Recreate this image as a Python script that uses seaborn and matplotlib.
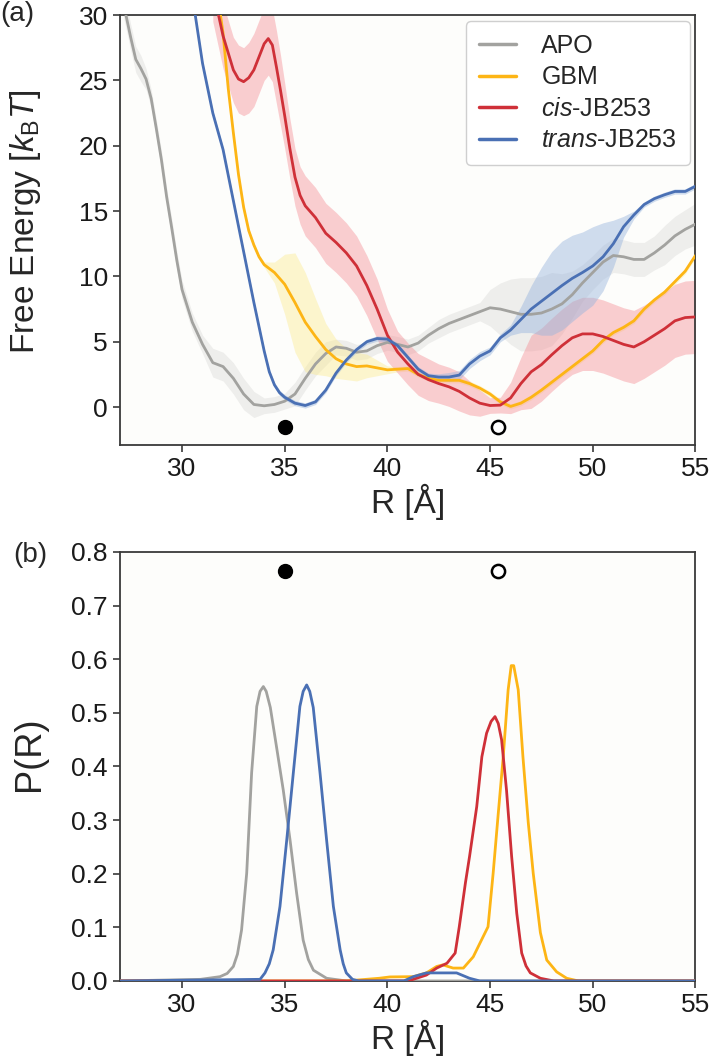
import numpy as np
import pandas as pd
import matplotlib
matplotlib.use("Agg")
import matplotlib.pyplot as plt
import seaborn as sns

# ---------------- data: free energy profiles (panel a) ----------------
apo_x = [27.0, 27.5, 27.75, 28.0, 28.25, 28.5, 28.75, 29.0, 29.25, 29.5, 29.75, 30.0, 30.5,
         31.0, 31.5, 32.0, 32.5, 33.0, 33.5,
         34.0, 34.5, 35.0, 35.5, 36.0, 36.5, 37.0, 37.5, 38.0, 38.5, 39.0, 39.5, 40.0, 40.5,
         41.0, 41.5, 42.0, 42.5, 43.0, 43.5, 44.0, 44.5, 45.0, 45.5, 46.0, 46.5, 47.0, 47.5,
         48.0, 48.5, 49.0, 49.5, 50.0, 50.5, 51.0, 51.5, 52.0, 52.5, 53.0, 53.5, 54.0, 54.5, 55.0]
apo_y = [32.0, 28.3, 26.6, 25.9, 25.1, 23.6, 21.3, 18.9, 16.1, 13.7, 11.2, 9.0, 6.5,
         4.8, 3.4, 3.1, 2.2, 1.0, 0.2,
         0.1, 0.2, 0.45, 1.0, 2.2, 3.3, 4.1, 4.6, 4.5, 4.2, 4.3, 4.7, 4.95, 4.8,
         4.6, 4.9, 5.5, 6.0, 6.4, 6.7, 7.0, 7.3, 7.6, 7.5, 7.3, 7.1, 7.1, 7.2,
         7.5, 7.9, 8.6, 9.5, 10.3, 11.1, 11.6, 11.5, 11.3, 11.3, 11.8, 12.4, 13.1, 13.6, 14.0]
apo_err = [1.0, 1.0, 1.0, 1.0, 0.8, 0.7, 0.7, 0.7, 0.7, 0.7, 0.7, 0.7, 0.7,
           0.7, 1.1, 1.1, 1.2, 1.2, 1.0,
           0.6, 0.6, 0.6, 0.9, 0.9, 0.9, 0.9, 0.6, 0.6, 0.6, 0.6, 0.6, 0.6, 0.6,
           0.6, 0.6, 0.6, 0.7, 0.7, 0.7, 0.7, 0.7, 1.4, 2.0, 2.5, 2.8, 2.8, 2.8,
           2.8, 2.3, 1.8, 1.4, 1.3, 1.3, 1.3, 1.3, 1.3, 1.3, 1.3, 1.5, 1.5, 1.5, 1.6]

gbm_x = [31.5, 32.0, 32.25, 32.5, 32.75, 33.0, 33.25, 33.5, 33.75, 34.0, 34.5, 35.0, 35.5, 36.0,
         36.5, 37.0, 37.5, 38.0,
         38.5, 39.0, 39.5, 40.0, 40.5, 41.0, 41.5, 42.0, 42.5, 43.0, 43.5, 44.0, 44.5, 45.0,
         45.5, 46.0, 46.5, 47.0, 47.5, 48.0, 48.5, 49.0, 49.5, 50.0, 50.5, 51.0, 51.5, 52.0,
         52.5, 53.0, 53.5, 54.0, 54.5, 55.0]
gbm_y = [34.0, 28.6, 24.4, 21.0, 17.8, 15.3, 13.5, 12.4, 11.5, 10.9, 10.3, 9.4, 8.0, 6.5,
         5.4, 4.4, 3.7, 3.3,
         3.1, 3.15, 3.0, 2.85, 2.9, 2.95, 2.5, 2.2, 2.05, 2.05, 2.05, 1.8, 1.45, 1.0,
         0.4, 0.05, 0.3, 0.75, 1.3, 1.9, 2.5, 3.1, 3.7, 4.3, 5.1, 5.7, 6.1, 6.6,
         7.5, 8.2, 8.8, 9.6, 10.4, 11.6]
gbm_err = [0.2, 0.2, 0.2, 0.2, 0.2, 0.2, 0.2, 0.2, 0.2, 0.2, 0.8, 2.3, 3.8, 3.8,
           2.9, 2.0, 1.5, 1.2,
           1.1, 0.9, 0.6, 0.3, 0.2, 0.2, 0.2, 0.2, 0.2, 0.2, 0.2, 0.2, 0.2, 0.2,
           0.2, 0.2, 0.2, 0.2, 0.2, 0.2, 0.2, 0.2, 0.2, 0.2, 0.2, 0.2, 0.2, 0.2,
           0.2, 0.2, 0.2, 0.2, 0.2, 0.2]

cis_x = [31.5, 32.0, 32.5, 32.75, 33.0, 33.25, 33.5, 33.75, 34.0, 34.2, 34.4, 34.6, 34.8, 35.0,
         35.25, 35.5, 35.75, 36.0, 36.5, 37.0, 37.5,
         38.0, 38.5, 39.0, 39.5, 40.0, 40.5, 41.0, 41.5, 42.0, 42.5, 43.0, 43.5, 44.0, 44.5,
         45.0, 45.5, 46.0, 46.5, 47.0, 47.5, 48.0, 48.5, 49.0, 49.5, 50.0, 50.5, 51.0, 51.5,
         52.0, 52.5, 53.0, 53.5, 54.0, 54.5, 55.0]
cis_y = [32.0, 28.4, 25.8, 25.1, 24.9, 25.2, 25.8, 26.8, 27.8, 28.2, 27.7, 26.0, 24.2, 22.3,
         19.8, 17.6, 16.2, 15.4, 14.5, 13.3, 12.6,
         11.8, 10.8, 9.3, 7.5, 5.5, 4.2, 3.3, 2.5, 2.1, 1.8, 1.55, 1.2, 0.7, 0.3,
         0.12, 0.15, 0.7, 1.8, 2.7, 3.25, 4.0, 4.7, 5.3, 5.6, 5.6, 5.4, 5.1, 4.8,
         4.6, 5.0, 5.5, 6.0, 6.6, 6.85, 6.9]
cis_err = [2.5, 2.5, 2.5, 2.6, 2.6, 2.7, 2.8, 2.8, 2.8, 2.8, 2.8, 2.8, 2.7, 2.5,
           2.3, 2.2, 2.2, 2.3, 2.3, 2.3, 2.3,
           2.3, 2.3, 2.3, 2.3, 2.0, 1.6, 1.6, 1.6, 1.6, 1.5, 1.5, 1.5, 1.3, 1.0,
           0.6, 0.6, 1.2, 2.0, 2.8, 2.8, 2.8, 2.8, 2.8, 2.8, 2.8, 2.8, 2.8, 2.8,
           2.8, 2.8, 2.8, 2.8, 2.8, 2.8, 2.8]

trans_x = [30.5, 31.0, 31.5, 32.0, 32.5, 33.0, 33.5, 34.0, 34.25, 34.5, 34.75, 35.0, 35.5, 36.0,
           36.5, 37.0, 37.5, 38.0, 38.5, 39.0, 39.5, 40.0, 40.5, 41.0, 41.5, 42.0, 42.5, 43.0,
           43.5, 44.0, 44.5, 45.0, 45.5, 46.0, 46.5, 47.0, 47.5, 48.0, 48.5, 49.0, 49.5, 50.0,
           50.5, 51.0, 51.5, 52.0, 52.5, 53.0, 53.5, 54.0, 54.5, 55.0]
trans_y = [31.5, 26.3, 22.5, 19.7, 15.8, 11.9, 8.0, 4.3, 2.7, 1.7, 1.1, 0.75, 0.3, 0.12,
           0.4, 1.3, 2.6, 3.6, 4.4, 5.0, 5.25, 5.2, 4.7, 3.8, 2.9, 2.4, 2.3, 2.3,
           2.45, 3.3, 3.9, 4.3, 5.3, 5.9, 6.7, 7.5, 8.1, 8.7, 9.3, 9.85, 10.3, 10.8,
           11.5, 12.5, 13.8, 14.7, 15.5, 15.95, 16.25, 16.5, 16.5, 16.9]
trans_err = [0.2, 0.2, 0.2, 0.2, 0.2, 0.2, 0.2, 0.2, 0.2, 0.2, 0.2, 0.2, 0.2, 0.2,
             0.2, 0.2, 0.2, 0.2, 0.2, 0.2, 0.2, 0.2, 0.2, 0.2, 0.2, 0.2, 0.25, 0.35,
             0.35, 0.35, 0.35, 0.3, 0.3, 0.4, 1.0, 1.8, 2.6, 3.2, 3.4, 3.3, 3.1, 3.0,
             2.6, 1.8, 0.8, 0.3, 0.2, 0.2, 0.2, 0.2, 0.2, 0.2]

# ---------------- data: probability distributions (panel b) ----------------
apo_px = [27.0, 30.9, 31.85, 32.2, 32.5, 32.7, 32.9, 33.15, 33.39, 33.64, 33.8, 33.96, 34.1,
          34.3, 34.6, 34.93, 35.26, 35.58, 35.9, 36.15, 36.4, 37.04, 38.0, 55.0]
apo_p = [0.0, 0.003, 0.008, 0.014, 0.027, 0.05, 0.095, 0.201, 0.388, 0.512, 0.54, 0.549, 0.54,
         0.51, 0.437, 0.356, 0.263, 0.164, 0.076, 0.04, 0.02, 0.005, 0.0, 0.0]
trans_px = [27.0, 33.8, 34.04, 34.25, 34.44, 34.77, 35.1, 35.42, 35.74, 35.9, 36.07, 36.22,
            36.39, 36.72, 37.04, 37.37, 37.7, 37.85, 38.0, 38.3, 38.6, 40.8, 41.26, 41.9,
            43.37, 44.0, 44.5, 55.0]
trans_p = [0.0, 0.003, 0.015, 0.032, 0.058, 0.139, 0.263, 0.388, 0.512, 0.54, 0.552, 0.54,
           0.51, 0.388, 0.263, 0.139, 0.058, 0.032, 0.015, 0.003, 0.0, 0.0, 0.008, 0.015,
           0.015, 0.005, 0.0, 0.0]
cis_px = [27.0, 41.0, 41.26, 41.9, 42.4, 42.9, 43.3, 43.5, 43.8, 44.0, 44.35, 44.6, 44.83,
          45.05, 45.24, 45.4, 45.56, 45.8, 46.05, 46.3, 46.54, 46.75, 46.96, 47.45, 48.1, 55.0]
cis_p = [0.0, 0.0, 0.003, 0.011, 0.024, 0.033, 0.052, 0.101, 0.183, 0.232, 0.325, 0.418, 0.462,
         0.484, 0.493, 0.48, 0.45, 0.356, 0.232, 0.126, 0.052, 0.028, 0.015, 0.005, 0.0, 0.0]
gbm_px = [27.0, 38.0, 39.6, 40.12, 41.26, 41.9, 42.4, 42.7, 43.2, 43.7, 44.18, 44.5, 44.9,
          45.15, 45.4, 45.64, 45.88, 46.03, 46.15, 46.37, 46.6, 46.86, 47.1, 47.45, 47.76,
          48.24, 48.73, 49.3, 55.0]
gbm_p = [0.0, 0.0, 0.005, 0.0075, 0.008, 0.015, 0.027, 0.03, 0.024, 0.024, 0.045, 0.07, 0.101,
         0.201, 0.313, 0.418, 0.543, 0.588, 0.588, 0.543, 0.418, 0.295, 0.201, 0.09, 0.039,
         0.017, 0.005, 0.0, 0.0]

labels = ["APO", "GBM", r"$\mathit{cis}$-JB253", r"$\mathit{trans}$-JB253"]
colors = ["#a2a29f", "#fdb515", "#cf3038", "#4a70b4"]
band_colors = ["#dcdcda", "#fbe98a", "#f5868e", "#97b4dd"]
band_alpha = [0.45, 0.4, 0.4, 0.45]

state_x = [35.0, 45.4]          # closed / open markers
state_y_a = -1.5
state_y_b = 0.765

x_ticks = [30, 35, 40, 45, 50, 55]

# ---------------- style ----------------
sns.set_theme(style="ticks")
plt.rcParams["font.family"] = ["Liberation Sans", "DejaVu Sans"]
plt.rcParams["mathtext.fontset"] = "custom"
plt.rcParams["mathtext.rm"] = "Liberation Sans"
plt.rcParams["mathtext.it"] = "Liberation Sans:italic"
plt.rcParams["mathtext.bf"] = "Liberation Sans:bold"

fig = plt.figure(figsize=(7.09, 10.59), dpi=100)
ax1 = fig.add_axes([0.1698, 0.5798, 0.8111, 0.4060])
ax2 = fig.add_axes([0.1698, 0.0737, 0.8111, 0.4051])

fe_series = [(apo_x, apo_y, apo_err), (gbm_x, gbm_y, gbm_err),
             (cis_x, cis_y, cis_err), (trans_x, trans_y, trans_err)]
p_series = [(apo_px, apo_p), (gbm_px, gbm_p), (cis_px, cis_p), (trans_px, trans_p)]

for ax in (ax1, ax2):
    ax.set_facecolor("#fdfdfb")

# panel a bands then lines
for (xs, ys, es), bc, ba in zip(fe_series, band_colors, band_alpha):
    xs = np.array(xs); ys = np.array(ys); es = np.array(es)
    ax1.fill_between(xs, ys - es, ys + es, color=bc, alpha=ba, lw=0, zorder=1)
for (xs, ys, es), lab, c in zip(fe_series, labels, colors):
    df = pd.DataFrame({"R": xs, "F": ys})
    sns.lineplot(data=df, x="R", y="F", ax=ax1, color=c, lw=2.0, label=lab, zorder=3,
                 sort=False, estimator=None)

ax1.plot([state_x[0]], [state_y_a], "o", color="black", ms=10, zorder=5)
ax1.plot([state_x[1]], [state_y_a], "o", mfc="white", mec="black", mew=1.8, ms=9.5, zorder=5)

ax1.set_xlim(27, 55)
ax1.set_ylim(-2.9, 30)
ax1.set_xticks(x_ticks)
ax1.set_yticks([0, 5, 10, 15, 20, 25, 30])
ax1.set_xlabel("R [Å]", fontsize=24, labelpad=2)
ax1.set_ylabel(r"Free Energy [$k_\mathrm{B}T$]", fontsize=24)
ax1.yaxis.set_label_coords(-0.135, 0.52)

leg = ax1.legend(loc="upper right", bbox_to_anchor=(0.99, 0.985), borderaxespad=0,
                 fontsize=18, frameon=True, fancybox=True, framealpha=1,
                 edgecolor="#cfcfcf", handlelength=1.5, handletextpad=1.0,
                 labelspacing=0.3, borderpad=0.5)
leg.get_frame().set_linewidth(1.0)
for line in leg.get_lines():
    line.set_linewidth(2.5)

# panel b
for (xs, ps), lab, c in zip(p_series, labels, colors):
    df = pd.DataFrame({"R": xs, "P": ps})
    sns.lineplot(data=df, x="R", y="P", ax=ax2, color=c, lw=2.0, zorder=3,
                 sort=False, estimator=None, legend=False)

ax2.plot([state_x[0]], [state_y_b], "o", color="black", ms=10, zorder=5)
ax2.plot([state_x[1]], [state_y_b], "o", mfc="white", mec="black", mew=1.8, ms=9.5, zorder=5)

ax2.set_xlim(27, 55)
ax2.set_ylim(0, 0.8)
ax2.set_xticks(x_ticks)
ax2.set_yticks([0.0, 0.1, 0.2, 0.3, 0.4, 0.5, 0.6, 0.7, 0.8])
ax2.set_yticklabels([f"{v:.1f}" for v in [0.0, 0.1, 0.2, 0.3, 0.4, 0.5, 0.6, 0.7, 0.8]])
ax2.set_xlabel("R [Å]", fontsize=24, labelpad=2)
ax2.set_ylabel("P(R)", fontsize=26)
ax2.yaxis.set_label_coords(-0.128, 0.53)

for ax in (ax1, ax2):
    for sp in ax.spines.values():
        sp.set_visible(True)
        sp.set_color("#3a3a3a")
        sp.set_linewidth(1.3)
    ax.tick_params(axis="both", which="major", direction="out", length=5, width=1.2,
                   color="#3a3a3a", labelsize=19, labelcolor="#1a1a1a", pad=4,
                   top=False, right=False)

fig.text(0.0, 0.999, "(a)", fontsize=20, ha="left", va="top")
fig.text(0.018, 0.488, "(b)", fontsize=20, ha="left", va="top")

fig.savefig("out.png", dpi=100, facecolor="white")
